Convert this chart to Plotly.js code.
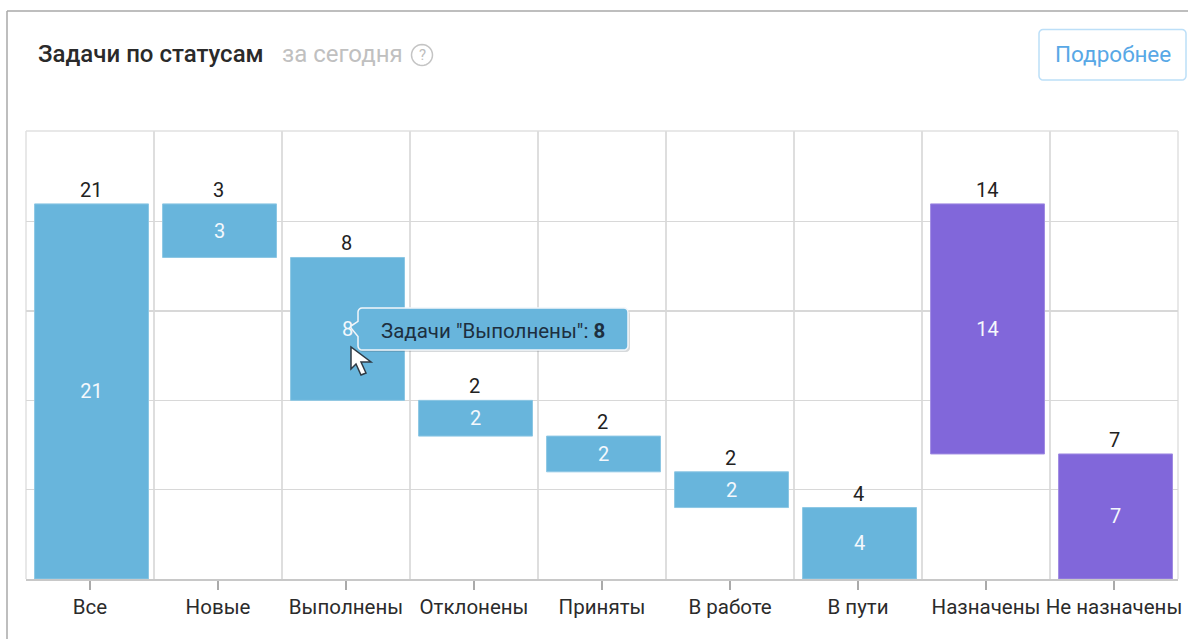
<!DOCTYPE html>
<html>
<head>
<meta charset="utf-8">
<script src="https://cdn.plot.ly/plotly-3.0.1.min.js"></script>
<style>html,body{margin:0;padding:0;background:#fff;overflow:hidden}#c{width:1188px;height:639px}</style>
</head>
<body>
<div id="c"></div>
<script>
const categories = ['Все','Новые','Выполнены','Отклонены','Приняты','В работе','В пути','Назначены','Не назначены'];
const values = [21,3,8,2,2,2,4,14,7];
const bases = [0,18,10,8,6,4,0,7,0];
const blue = '#68b5dc', purple = '#8167da';
const barColors = [blue,blue,blue,blue,blue,blue,blue,purple,purple];
const barEdges = ['#8cc7e4','#8cc7e4','#8cc7e4','#8cc7e4','#8cc7e4','#8cc7e4','#8cc7e4','#a08be2','#a08be2'];
const positions = categories.map((_, i) => i);
const boundaries = [0.5,1.5,2.5,3.5,4.5,5.5,6.5,7.5];
const tops = values.map((v, i) => v + bases[i]);

const L = 26, R = 1178, T = 131, B = 579;
const X = p => (p - L) / (R - L);
const Y = p => (B - p) / (B - T);
const path = pts => 'M' + pts.map(q => X(q[0]) + ',' + Y(q[1])).join(' L') + ' Z';
const paperShape = (p, fill, line, width) => ({type:'path', xref:'paper', yref:'paper', path:p, fillcolor:fill, line:{color:line, width:width}, layer:'above'});

function roundedBubble(x0,y0,x1,y1,r,ox,oy){
  const pts=[];
  const arc=(cx,cy,a0)=>{for(let i=0;i<=4;i++){const a=a0+i*Math.PI/8;pts.push([cx+r*Math.cos(a),cy+r*Math.sin(a)]);}};
  arc(x0+r,y0+r,Math.PI);
  arc(x1-r,y0+r,1.5*Math.PI);
  arc(x1-r,y1-r,0);
  arc(x0+r,y1-r,Math.PI/2);
  pts.push([x0,y0+(y1-y0)*0.68]);
  pts.push([x0-7,oy+1]);
  pts.push([x0-7,oy-1]);
  pts.push([x0,y0+(y1-y0)*0.32]);
  return path(pts);
}
function roundRect(x0,y0,x1,y1,r){
  const pts=[];
  const arc=(cx,cy,a0)=>{for(let i=0;i<=4;i++){const a=a0+i*Math.PI/8;pts.push([cx+r*Math.cos(a),cy+r*Math.sin(a)]);}};
  arc(x0+r,y0+r,Math.PI);arc(x1-r,y0+r,1.5*Math.PI);arc(x1-r,y1-r,0);arc(x0+r,y1-r,Math.PI/2);
  return path(pts);
}
const circlePath = (cx,cy,r) => { const pts=[]; for(let i=0;i<32;i++){const a=i*Math.PI/16;pts.push([cx+r*Math.cos(a),cy+r*Math.sin(a)]);} return path(pts); };

const cursor = [[351,347],[351,369],[356,364],[361,375],[366,373],[361,362],[371,362]];

const font = 'Roboto, sans-serif';
const note = (text,x,y,size,color,anchor,weight) => ({text, xref:'paper', yref:'paper', x:X(x), y:Y(y), xanchor:anchor||'left', yanchor:'middle', showarrow:false, font:{family:font,size,color,weight:weight||400}, borderpad:0});

const traces = [
 {type:'bar', x:positions, y:values, base:bases, width:0.89, offset:-0.433,
  marker:{color:barColors, line:{width:1, color:barEdges}},
  text:values.map(String), textposition:'inside', insidetextanchor:'middle', textangle:0, constraintext:'none',
  insidetextfont:{family:font,size:20,color:'#f4f8fc'}, hoverinfo:'skip', cliponaxis:false}
];

const topLabels = values.map((v, i) => ({text:String(v), x:positions[i], y:tops[i], xref:'x', yref:'y', xanchor:'center', yanchor:'bottom', yshift:1, xshift:0.5, showarrow:false, borderpad:0, font:{family:font,size:20,color:'#222'}}));

const layout = {
 width:1188, height:639, margin:{l:L, r:1188-R, t:T, b:639-B}, paper_bgcolor:'#fff', plot_bgcolor:'#fff',
 showlegend:false, hovermode:false,
 xaxis:{range:[-0.5,8.5], tickmode:'array', tickvals:positions, ticktext:categories, tickangle:0, ticks:'outside', ticklen:9, tickwidth:1.5, tickcolor:'#aaa',
   tickfont:{family:font,size:20.5,color:'#2b2b2b'}, showgrid:false, zeroline:false, showline:true, linecolor:'#c8c8c8', linewidth:1.5, mirror:false, ticklabelstandoff:0,
   minor:{tickmode:'array', tickvals:boundaries, showgrid:true, gridcolor:'#dedede', gridwidth:1.6, ticks:''}},
 yaxis:{range:[0,25.08], tickmode:'array', tickvals:[5,10,15,20], showticklabels:false, ticks:'', showgrid:true, gridcolor:'#d8d8d8', gridwidth:1.3, zeroline:false, showline:false},
 shapes:[
  {type:'line', xref:'paper', yref:'paper', x0:0, x1:1, y0:1, y1:1, line:{color:'#e0e0e0', width:1.5}, layer:'below'},
  {type:'line', xref:'paper', yref:'paper', x0:0, x1:0, y0:0, y1:1, line:{color:'#e0e0e0', width:1.5}, layer:'below'},
  {type:'line', xref:'paper', yref:'paper', x0:1, x1:1, y0:0, y1:1, line:{color:'#e0e0e0', width:1.5}, layer:'below'},
  {type:'line', xref:'paper', yref:'paper', x0:X(7), x1:X(1188), y0:Y(11), y1:Y(11), line:{color:'#a8a8a8', width:1.5}},
  {type:'line', xref:'paper', yref:'paper', x0:X(7), x1:X(7), y0:Y(11), y1:Y(639), line:{color:'#a8a8a8', width:1.5}},
  paperShape(roundRect(1039,29.5,1186,80,4), 'rgba(255,255,255,0)', '#bcdff8', 1.5),
  paperShape(circlePath(422,55,10.5), 'rgba(255,255,255,0)', '#c4c4c4', 1.5),
  paperShape(roundedBubble(359,310,630,352,4,352,329), 'rgba(70,80,90,0.22)', 'rgba(0,0,0,0)', 0),
  paperShape(roundedBubble(358,308,628,350,4,352,327), blue, '#f2f6fa', 1.5),
  paperShape(path(cursor), '#ffffff', '#2f3a44', 1.5)
 ],
 annotations:topLabels.concat([
  note('Задачи по статусам',37,54,24,'#2a2a2a','left',500),
  note('за сегодня',281,54,24,'#c0c0c0'),
  note('?',422,55,15,'#bdbdbd','center'),
  note('Подробнее',1113,54.5,22.5,'#58a8e6','center'),
  note('Задачи "Выполнены": <b>8</b>',380,331,20.5,'#1d2f3f')
 ])
};
Plotly.newPlot('c', traces, layout, {displayModeBar:false, staticPlot:true});
</script>
</body>
</html>
